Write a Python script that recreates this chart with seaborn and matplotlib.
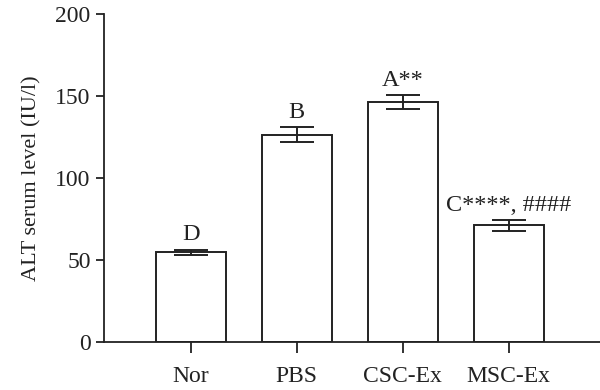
import matplotlib
matplotlib.use("Agg")
from matplotlib import pyplot as plt
import seaborn as sns
import pandas as pd

groups = ["Nor", "PBS", "CSC-Ex", "MSC-Ex"]
alt_mean = [54.6, 126.5, 146.5, 71.2]
alt_sem = [1.8, 4.6, 4.2, 3.4]
labels = ["D", "B", "A**", "C****, ####"]

df = pd.DataFrame({"group": groups, "alt": alt_mean})

sns.set_style("ticks")
plt.rcParams['font.family'] = ['Liberation Serif', 'DejaVu Serif']
plt.rcParams['axes.linewidth'] = 1.3

fig = plt.figure(figsize=(6, 3.9), dpi=100)
ax = fig.add_axes([0.173, 0.123, 0.827, 0.841])

sns.barplot(data=df, x="group", y="alt", ax=ax, color="white",
            edgecolor="#222222", linewidth=1.4, width=0.66, errorbar=None)
ax.errorbar(range(len(groups)), alt_mean, yerr=alt_sem, fmt="none",
            ecolor="#222222", elinewidth=1.4, capsize=12, capthick=1.4)

for i, (m, e, t) in enumerate(zip(alt_mean, alt_sem, labels)):
    ax.annotate(t, xy=(i, m + e), xytext=(0, 3), textcoords="offset points",
                ha="center", va="bottom", fontsize=17.5, color="#222222")

ax.set_xlim(-0.82, 3.86)
ax.set_ylim(0, 200)
ax.set_yticks([0, 50, 100, 150, 200])
ax.set_xlabel("")
ax.set_ylabel("ALT serum level (IU/l)", fontsize=16, color="#222222", labelpad=10)
ax.tick_params(axis="both", labelsize=17, colors="#222222", width=1.3)
ax.tick_params(axis="y", length=6)
ax.tick_params(axis="x", length=8, pad=9)
sns.despine(ax=ax)
for sp in ax.spines.values():
    sp.set_color("#222222")

fig.savefig("out.png", dpi=100)
